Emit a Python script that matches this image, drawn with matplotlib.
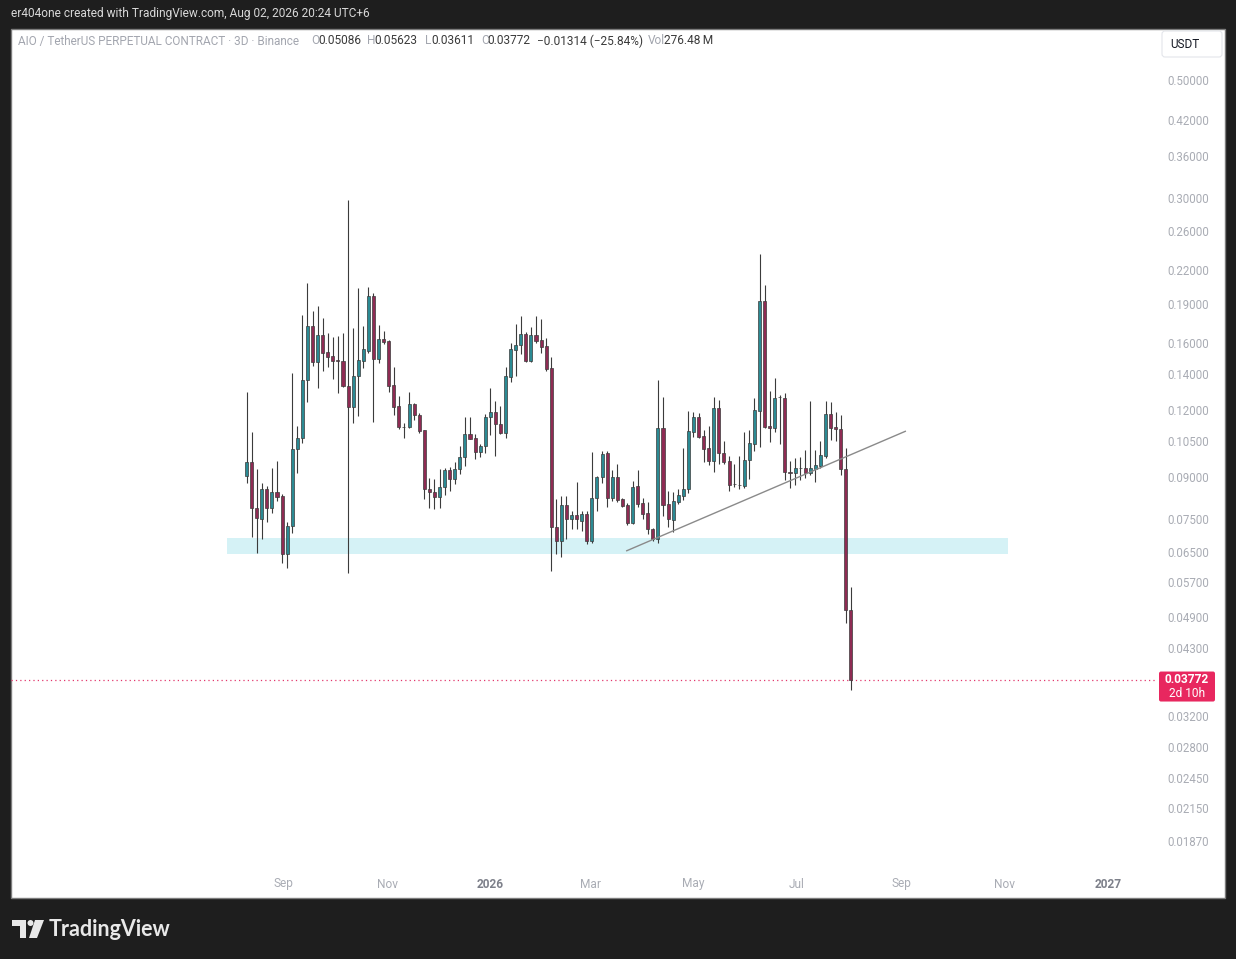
import numpy as np
import pandas as pd
import matplotlib
matplotlib.use('Agg')
import matplotlib.pyplot as plt
import matplotlib.dates as mdates
from matplotlib.patches import Rectangle, FancyBboxPatch, Polygon, Circle
from matplotlib.transforms import blended_transform_factory, IdentityTransform

# AIO / USDT perpetual, 3D candles
first_bar = pd.Timestamp('2025-08-10')

opens = [
    0.0908, 0.0965, 0.0791, 0.0754, 0.0859, 0.0791, 0.0848, 0.0833, 0.0649, 0.0732,
    0.1021, 0.1070, 0.1375, 0.1736, 0.1486, 0.1670, 0.1552, 0.1525, 0.1499, 0.1492,
    0.1340, 0.1224, 0.1399, 0.1492, 0.1558, 0.1976, 0.1505, 0.1641, 0.1627, 0.1345,
    0.1229, 0.1122, 0.1122, 0.1240, 0.1182, 0.1108, 0.0859, 0.0848, 0.0830, 0.0866,
    0.0932, 0.0897, 0.0936, 0.0986, 0.1089, 0.1070, 0.1008, 0.1034, 0.1172, 0.1197,
    0.1137, 0.1094, 0.1393, 0.1565, 0.1599, 0.1677, 0.1492, 0.1670, 0.1634, 0.1592,
    0.1448, 0.0729, 0.0686, 0.0801, 0.0754, 0.0768, 0.0748, 0.0771, 0.0686, 0.0826,
    0.0904, 0.1003, 0.0826, 0.0904, 0.0822, 0.0801, 0.0741, 0.0870, 0.0808, 0.0774,
    0.0723, 0.0692, 0.1117, 0.0805, 0.0751, 0.0812, 0.0833, 0.0859, 0.1098, 0.1172,
    0.1080, 0.1025, 0.0969, 0.1218, 0.1003, 0.0969, 0.0877, 0.0874, 0.0870, 0.0973,
    0.1043, 0.1203, 0.1934, 0.1127, 0.1117, 0.1275, 0.1272, 0.0924, 0.0920, 0.0940,
    0.0940, 0.0920, 0.0936, 0.0948, 0.0990, 0.1187, 0.1122, 0.1113, 0.0936, 0.05086,
]
highs = [
    0.1305, 0.1098, 0.0936, 0.0881, 0.0870, 0.0940, 0.0969, 0.0840, 0.0745, 0.1417,
    0.1127, 0.1820, 0.2090, 0.1852, 0.1893, 0.1797, 0.1684, 0.1655, 0.1663, 0.1684,
    0.2991, 0.1721, 0.2046, 0.1736, 0.2054, 0.2002, 0.1743, 0.1699, 0.1634, 0.1454,
    0.1283, 0.1142, 0.1305, 0.1245, 0.1192, 0.1110, 0.0900, 0.0897, 0.0936, 0.0940,
    0.0944, 0.0965, 0.1034, 0.1172, 0.1172, 0.1089, 0.1043, 0.1187, 0.1328, 0.1256,
    0.1229, 0.1454, 0.1613, 0.1751, 0.1813, 0.1692, 0.1728, 0.1813, 0.1789, 0.1648,
    0.1518, 0.0822, 0.0833, 0.0833, 0.0781, 0.0885, 0.0781, 0.0781, 0.1008, 0.0908,
    0.1012, 0.1012, 0.0932, 0.0957, 0.0826, 0.0808, 0.0889, 0.0932, 0.0826, 0.0812,
    0.0726, 0.1375, 0.1278, 0.0851, 0.0848, 0.0859, 0.1025, 0.1203, 0.1197, 0.1192,
    0.1108, 0.1127, 0.1278, 0.1261, 0.1056, 0.0990, 0.0957, 0.0990, 0.1098, 0.1108,
    0.1272, 0.2369, 0.2072, 0.1311, 0.1387, 0.1289, 0.1300, 0.0969, 0.0982, 0.0986,
    0.1016, 0.1256, 0.1016, 0.1056, 0.1256, 0.1250, 0.1197, 0.1182, 0.1025, 0.05623,
]
lows = [
    0.0881, 0.0698, 0.0651, 0.0692, 0.0745, 0.0774, 0.0815, 0.0624, 0.0610, 0.0710,
    0.0920, 0.1047, 0.1250, 0.1461, 0.1328, 0.1429, 0.1454, 0.1381, 0.1300, 0.1334,
    0.0597, 0.1142, 0.1177, 0.1448, 0.1545, 0.1147, 0.1480, 0.1606, 0.1305, 0.1182,
    0.1113, 0.1070, 0.1118, 0.1157, 0.1094, 0.0822, 0.0791, 0.0788, 0.0791, 0.0837,
    0.0851, 0.0877, 0.0916, 0.0948, 0.1064, 0.0978, 0.0986, 0.1003, 0.1084, 0.0990,
    0.1089, 0.1070, 0.1363, 0.1399, 0.1538, 0.1486, 0.1488, 0.1613, 0.1545, 0.1429,
    0.0603, 0.0649, 0.0640, 0.0692, 0.0723, 0.0723, 0.0716, 0.0677, 0.0680, 0.0781,
    0.0881, 0.0794, 0.0815, 0.0812, 0.0794, 0.0735, 0.0738, 0.0794, 0.0754, 0.0707,
    0.0686, 0.0680, 0.0764, 0.0729, 0.0713, 0.0805, 0.0819, 0.0844, 0.1075, 0.1070,
    0.0965, 0.0952, 0.0924, 0.0957, 0.0957, 0.0851, 0.0866, 0.0859, 0.0862, 0.0897,
    0.1012, 0.1029, 0.1117, 0.1052, 0.1098, 0.1043, 0.0893, 0.0862, 0.0874, 0.0893,
    0.0900, 0.0912, 0.0885, 0.0940, 0.0982, 0.1061, 0.1056, 0.0912, 0.0481, 0.03611,
]
closes = [
    0.0965, 0.0791, 0.0758, 0.0859, 0.0791, 0.0848, 0.0830, 0.0649, 0.0732, 0.1021,
    0.1070, 0.1375, 0.1736, 0.1486, 0.1670, 0.1545, 0.1518, 0.1492, 0.1492, 0.1340,
    0.1224, 0.1399, 0.1499, 0.1572, 0.1976, 0.1505, 0.1641, 0.1620, 0.1340, 0.1224,
    0.1122, 0.1120, 0.1240, 0.1182, 0.1103, 0.0859, 0.0848, 0.0830, 0.0866, 0.0932,
    0.0897, 0.0936, 0.0986, 0.1089, 0.1068, 0.1008, 0.1034, 0.1172, 0.1197, 0.1137,
    0.1094, 0.1399, 0.1572, 0.1599, 0.1677, 0.1492, 0.1670, 0.1627, 0.1585, 0.1442,
    0.0729, 0.0686, 0.0801, 0.0754, 0.0768, 0.0754, 0.0771, 0.0686, 0.0826, 0.0904,
    0.0999, 0.0826, 0.0904, 0.0819, 0.0798, 0.0741, 0.0866, 0.0805, 0.0771, 0.0723,
    0.0692, 0.1117, 0.0801, 0.0754, 0.0815, 0.0837, 0.0859, 0.1103, 0.1172, 0.1075,
    0.1021, 0.0969, 0.1218, 0.1003, 0.0965, 0.0874, 0.0876, 0.0875, 0.0973, 0.1047,
    0.1208, 0.1934, 0.1122, 0.1117, 0.1272, 0.1278, 0.0924, 0.0922, 0.0940, 0.0939,
    0.0920, 0.0940, 0.0952, 0.0995, 0.1187, 0.1117, 0.1113, 0.0936, 0.0509, 0.03772,
]

# drawings on the chart
zone_start, zone_end = '2025-07-29 12:00', '2026-11-02 18:00'
zone_low, zone_high = 0.0649, 0.0695
trend_dates = ['2026-03-22 05:00', '2026-09-03 12:00']
trend_prices = [0.0657, 0.1103]

price_ticks = [0.5, 0.42, 0.36, 0.30, 0.26, 0.22, 0.19, 0.16, 0.14, 0.12, 0.105,
               0.09, 0.075, 0.065, 0.057, 0.049, 0.043, 0.032, 0.028, 0.0245,
               0.0215, 0.0187]
month_ticks = ['2025-09-01', '2025-11-01', '2026-01-01', '2026-03-01', '2026-05-01',
               '2026-07-01', '2026-09-01', '2026-11-01', '2027-01-01']
month_labels = ['Sep', 'Nov', '2026', 'Mar', 'May', 'Jul', 'Sep', 'Nov', '2027']

UP = '#2b8a93'
DOWN = '#8e2b53'
WICK = '#3b3b3b'
AXIS_TXT = '#a9acb4'
FONT = 'Roboto'

W, H = 1236, 959
fig = plt.figure(figsize=(W / 100, H / 100), dpi=100, facecolor='#1e1e1e')


def fx(x):
    return x / W


def fy(y):
    return 1 - y / H


def box(x, y, w, h, **kw):
    # pixel box, y measured from the top
    p = FancyBboxPatch((x, H - y - h), w, h, transform=IdentityTransform(), **kw)
    fig.add_artist(p)
    return p


# white chart panel
fig.add_artist(Rectangle((fx(11), fy(898)), fx(1225) - fx(11), fy(29) - fy(898),
                         transform=fig.transFigure, facecolor='white',
                         edgecolor='#7c7c7c', lw=1, zorder=0))

ax = fig.add_axes([fx(11), fy(872), fx(1155) - fx(11), fy(29) - fy(872)])
ax.patch.set_visible(False)
for s in ax.spines.values():
    s.set_visible(False)
ax.set_yscale('log')
ax.set_ylim(0.01643, 0.6259)
x0 = mdates.date2num(first_bar)
ax.set_xlim(x0 - 139.1, x0 + 536.6)
ax.tick_params(which='both', left=False, bottom=False, labelleft=False, labelbottom=False)
ax.yaxis.set_major_locator(matplotlib.ticker.NullLocator())
ax.yaxis.set_minor_locator(matplotlib.ticker.NullLocator())

dates = pd.date_range(first_bar, periods=len(opens), freq='3D')
x = mdates.date2num(dates)
o = np.array(opens)
h = np.array(highs)
l = np.array(lows)
c = np.array(closes)
colors = np.where(c >= o, UP, DOWN)

# support zone and trendline
zs, ze = mdates.date2num(pd.Timestamp(zone_start)), mdates.date2num(pd.Timestamp(zone_end))
ax.add_patch(Rectangle((zs, zone_low), ze - zs, zone_high - zone_low,
                       facecolor='#d5f2f6', edgecolor='none', zorder=1))
ax.plot(mdates.date2num(pd.to_datetime(trend_dates)), trend_prices,
        color='#8a8a8a', lw=1.0, zorder=5, solid_capstyle='butt')

# last price line (under the candles)
ax.axhline(closes[-1], color='#e2376c', lw=0.9, ls=(0, (1, 2.5)), zorder=2)

# candles
ax.vlines(x, l, h, color=WICK, lw=0.8, zorder=3)
ax.bar(x, np.abs(c - o), bottom=np.minimum(o, c), width=1.8, color=colors,
       edgecolor=WICK, linewidth=0.5, zorder=4)

# price scale labels
ty = blended_transform_factory(ax.transAxes, ax.transData)
xr = (1209 - 11) / (1155 - 11)
for v in price_ticks:
    ax.text(xr, v, f'{v:.5f}', transform=ty, ha='right', va='center',
            fontsize=8.3, color=AXIS_TXT, family=FONT, clip_on=False)

# time scale labels
tx = blended_transform_factory(ax.transData, ax.transAxes)
yb = -(884 - 872) / (872 - 29)
for d, lab in zip(month_ticks, month_labels):
    is_year = lab.isdigit()
    ax.text(mdates.date2num(pd.Timestamp(d)), yb, lab, transform=tx, ha='center',
            va='center', fontsize=8.6, family=FONT, clip_on=False,
            color='#7d808a' if is_year else AXIS_TXT,
            fontweight='bold' if is_year else 'normal')

# last price tag
py = ax.transData.transform((x[-1], closes[-1]))[1]
ptop = H - py
box(1159, ptop - 8, 56, 30, boxstyle='round,pad=0,rounding_size=2',
    facecolor='#e8275f', edgecolor='none')
fig.text(fx(1187), fy(ptop), f'{closes[-1]:.5f}', ha='center', va='center',
         fontsize=8.6, color='white', fontweight='bold', family=FONT)
fig.text(fx(1187), fy(ptop + 14), '2d 10h', ha='center', va='center',
         fontsize=8.6, color='white', family=FONT)

# currency button
box(1162, 31, 60, 26, boxstyle='round,pad=0,rounding_size=3',
    facecolor='white', edgecolor='#e3e5ea', lw=0.8)
fig.text(fx(1185), fy(44), 'USDT', ha='center', va='center', fontsize=8.5,
         color='#131722', family=FONT)

# header and legend
fig.text(fx(11), fy(14), 'er404one created with TradingView.com, Aug 02, 2026 20:24 UTC+6',
         ha='left', va='center', fontsize=8.6, color='#d8d8d8', family=FONT)

GRAY = '#a3a6af'
DARK = '#3a3a3a'
fig.text(fx(18), fy(41), 'AIO / TetherUS PERPETUAL CONTRACT · 3D · Binance',
         ha='left', va='center', fontsize=8.45, color=GRAY, family=[FONT, 'DejaVu Sans'])
legend_bits = [
    (311, 'O', GRAY), (318, f'{opens[-1]:.5f}', DARK),
    (367, 'H', GRAY), (374, f'{highs[-1]:.5f}', DARK),
    (425, 'L', GRAY), (431, f'{lows[-1]:.5f}', DARK),
    (481, 'C', GRAY), (487, f'{closes[-1]:.5f}', DARK),
    (537, '\u22120.01314 (\u221225.84%)', DARK),
    (648, 'Vol', GRAY), (664, '276.48\u2009M', DARK),
]
for px_, s, col in legend_bits:
    fig.text(fx(px_), fy(41), s, ha='left', va='center', fontsize=8.6,
             color=col, family=[FONT, 'DejaVu Sans'])

# TradingView logo
logo = dict(transform=IdentityTransform(), facecolor='#e8e8e8', edgecolor='none')
fig.add_artist(Polygon([(12, H - 920), (26, H - 920), (26, H - 938), (20, H - 938),
                        (20, H - 926), (12, H - 926)], **logo))
fig.add_artist(Circle((30.5, H - 923), 3.0, **logo))
fig.add_artist(Polygon([(35, H - 920), (44, H - 920), (37, H - 938), (29, H - 938)], **logo))
fig.text(fx(49), fy(929), 'TradingView', ha='left', va='center', fontsize=15.5,
         color='#e8e8e8', fontweight='bold', family='Lato')

fig.savefig('out.png', dpi=100, facecolor=fig.get_facecolor())
